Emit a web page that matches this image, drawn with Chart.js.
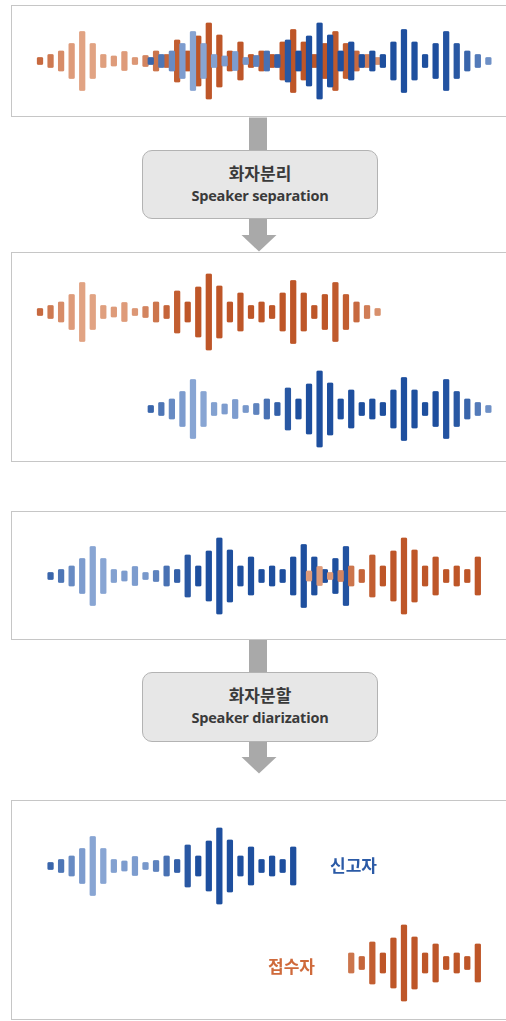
<!DOCTYPE html>
<html lang="ko">
<head>
<meta charset="utf-8">
<script src="https://cdn.jsdelivr.net/npm/chart.js@4.4.1/dist/chart.umd.min.js"></script>
<style>
html,body{margin:0;padding:0;background:#fff;}
body{width:506px;height:1021px;position:relative;overflow:hidden;font-family:"Noto Sans CJK KR","Noto Sans",sans-serif;}
.panel{position:absolute;left:11px;width:520px;border:1.5px solid #c6c6c6;box-sizing:border-box;background:#fff;}
.step{position:absolute;left:142px;width:236px;height:69px;background:#e7e7e7;border:1px solid #b3b3b3;border-radius:10px;box-sizing:border-box;text-align:center;color:#3a3a3a;font-weight:700;}
.step .t1{position:absolute;left:0;right:0;top:11px;font-size:17px;line-height:22px;}
.step .t2{position:absolute;left:0;right:0;top:35px;font-size:14.5px;line-height:20px;font-family:"Open Sans","Noto Sans",sans-serif;letter-spacing:-0.2px;}
.wave{position:absolute;left:0;width:506px;height:90px;}
.lbl{position:absolute;font-size:17px;font-weight:700;line-height:22px;}
svg{position:absolute;left:0;top:0;}
</style>
</head>
<body>
<div class="panel" style="top:5px;height:112px;"></div>
<div class="panel" style="top:252px;height:210px;"></div>
<div class="panel" style="top:511px;height:129px;"></div>
<div class="panel" style="top:800px;height:220px;"></div>

<svg width="506" height="1021">
  <g fill="#a9a9a9">
    <rect x="249" y="117.5" width="18" height="118"/>
    <polygon points="241.5,235 276.5,235 259,251.5"/>
    <rect x="249" y="640" width="18" height="117.5"/>
    <polygon points="241.5,757 276.5,757 259,773.5"/>
  </g>
</svg>

<div class="step" id="step0" style="top:150px;"><div class="t1"></div><div class="t2"></div></div>
<div class="step" id="step1" style="top:672px;height:70px;"><div class="t1"></div><div class="t2"></div></div>

<canvas class="wave" id="mix" width="506" height="90" style="top:16px;"></canvas>
<canvas class="wave" id="sepOrange" width="506" height="90" style="top:267px;"></canvas>
<canvas class="wave" id="sepBlue" width="506" height="90" style="top:364px;"></canvas>
<canvas class="wave" id="diar" width="506" height="90" style="top:531px;"></canvas>
<canvas class="wave" id="resBlue" width="506" height="90" style="top:821px;"></canvas>
<canvas class="wave" id="resOrange" width="506" height="90" style="top:918px;"></canvas>

<div class="lbl" id="lblBlue" style="left:330px;top:854px;color:#2b5aa6;"></div>
<div class="lbl" id="lblOrange" style="left:268px;top:955px;color:#cf6a3b;"></div>

<script>
// ---- data ----
// amplitude (peak-to-peak) of each time step of the voice pattern
const amplitude = [7,13,20,35,59,35,13,10,19,7,11,20,13,42,20,50,76,52,20,38,13,20,13,38,63,38,13,35,59,35,20,13,7];
// onsets (in time steps) of each speaker's utterance
const mixedOnsets = [0, 10.5];      // [receiver(orange), caller(blue)]
const diarizedOnsets = [18.5, 1];   // [receiver(orange), caller(blue)]
// ranges of time steps that are voiced
const separationRange = [0, 32];
const diarizationBlueRange = [0, 28];
const diarizationOrangeRange = [7, 23];
const resultBlueRange = [0, 23];
const resultOrangeRange = [11, 23];
const stepTitles = ['화자분리', '화자분할'];
const stepSubtitles = ['Speaker separation', 'Speaker diarization'];
const speakerLabels = ['신고자', '접수자'];

// ---- styling ----
const PX_PER_STEP = 10.55, ORIGIN_PX = 40;
const lightness = [0.25,0.45,0.7,0.9,1,1,0.95,0.9,0.9,0.85,0.6,0.4,0.2,0.1,0,0,0,0,0,0,0,0,0,0,0,0,0,0,0.05,0.1,0.25,0.5,0.75];
const palettes = {
  orange: {dark:[190,86,40], light:[225,163,131]},
  blue: {dark:[30,79,158], light:[136,165,211]}
};
function colorFor(name, k, alpha) {
  const p = palettes[name], w = lightness[k] || 0;
  const c = p.dark.map((d, i) => Math.round(d + (p.light[i] - d) * w));
  return `rgba(${c[0]},${c[1]},${c[2]},${alpha == null ? 1 : alpha})`;
}
function points(range, onset) {
  const pts = [];
  for (let k = range[0]; k <= range[1]; k++) {
    pts.push({x: onset + k, y: [-amplitude[k] / 2, amplitude[k] / 2], k: k});
  }
  return pts;
}
function dataset(name, range, onset) {
  return {
    label: name,
    data: points(range, onset),
    backgroundColor: (ctx) => colorFor(name, ctx.raw ? ctx.raw.k : 0),
    borderWidth: 0,
    borderRadius: 1.5,
    borderSkipped: false,
    barThickness: 5.6,
    stack: 'wave'
  };
}
function waveChart(id, datasets) {
  new Chart(document.getElementById(id), {
    type: 'bar',
    data: {datasets: datasets},
    options: {
      responsive: false,
      animation: false,
      events: [],
      devicePixelRatio: 2,
      layout: {padding: 0},
      plugins: {legend: {display: false}, tooltip: {enabled: false}},
      scales: {
        x: {type: 'linear', display: false, offset: false,
            min: -ORIGIN_PX / PX_PER_STEP, max: (506 - ORIGIN_PX) / PX_PER_STEP},
        y: {type: 'linear', display: false, stacked: false, min: -45, max: 45}
      }
    }
  });
}

waveChart('mix', [
  dataset('blue', separationRange, mixedOnsets[1]),
  dataset('orange', separationRange, mixedOnsets[0])
]);
waveChart('sepOrange', [dataset('orange', separationRange, mixedOnsets[0])]);
waveChart('sepBlue', [dataset('blue', separationRange, mixedOnsets[1])]);
waveChart('diar', [
  dataset('orange', diarizationOrangeRange, diarizedOnsets[0]),
  dataset('blue', diarizationBlueRange, diarizedOnsets[1])
]);
waveChart('resBlue', [dataset('blue', resultBlueRange, diarizedOnsets[1])]);
waveChart('resOrange', [dataset('orange', resultOrangeRange, diarizedOnsets[0])]);

[0, 1].forEach(i => {
  const el = document.getElementById('step' + i);
  el.querySelector('.t1').textContent = stepTitles[i];
  el.querySelector('.t2').textContent = stepSubtitles[i];
});
document.getElementById('lblBlue').textContent = speakerLabels[0];
document.getElementById('lblOrange').textContent = speakerLabels[1];
</script>
</body>
</html>
